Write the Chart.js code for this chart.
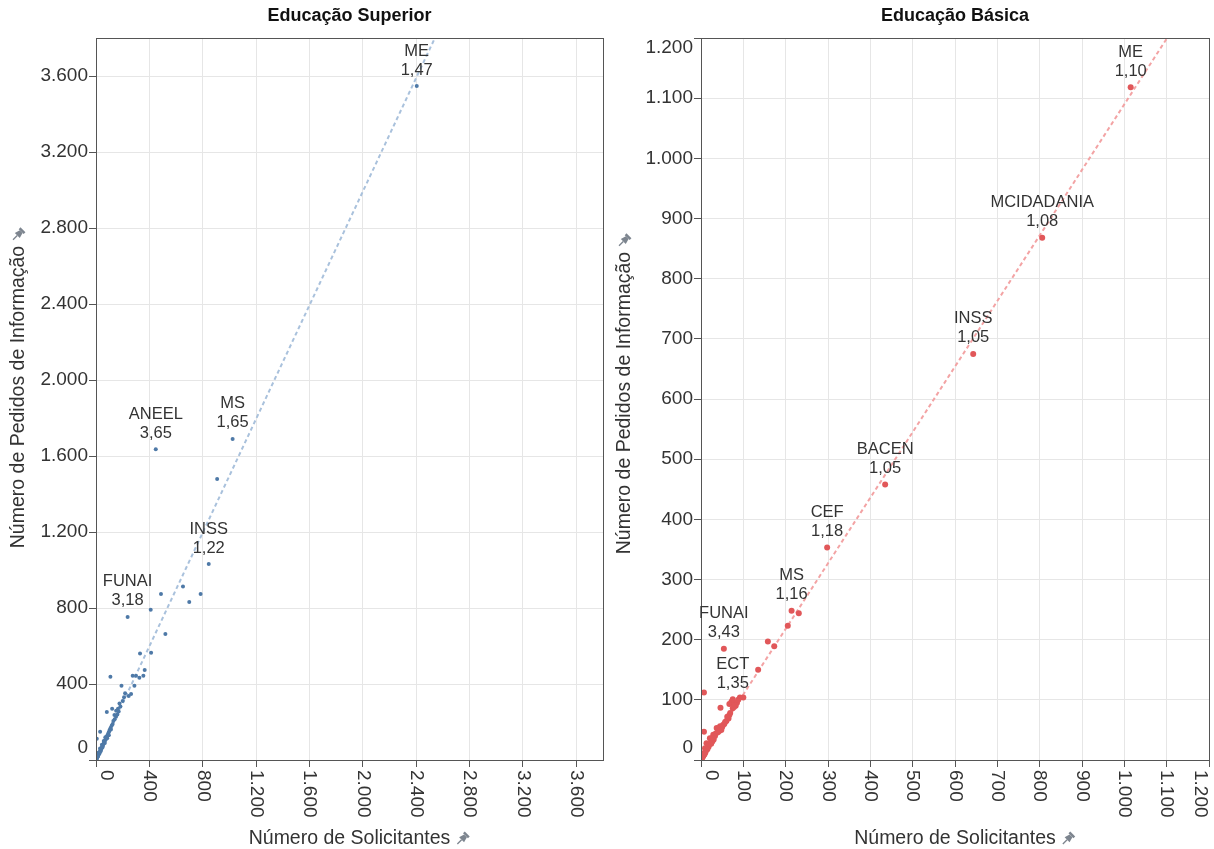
<!DOCTYPE html>
<html>
<head>
<meta charset="utf-8">
<script src="https://cdn.jsdelivr.net/npm/chart.js@4.4.1/dist/chart.umd.min.js"></script>
<style>
  body { margin: 0; background: #fff; }
  canvas { position: absolute; top: 0; }
  #supCanvas { left: 0; }
  #basCanvas { left: 607px; }
</style>
</head>
<body>
<canvas id="supCanvas" width="607" height="849"></canvas>
<canvas id="basCanvas" width="607" height="849"></canvas>
<script>
const FONT = '"Liberation Sans", Arial, sans-serif';

// ---- Educação Superior ----
const supX = [908, 652, 487, 784, 699, 410, 520, 330, 413, 365, 275, 300, 325, 355, 108, 191, 288, 218, 245, 263,
  176, 183, 121, 81, 151, 138, 31, 6,
  160, 150, 140, 130, 125, 118, 110, 104, 100, 95, 90, 86, 80, 76, 72, 68, 63, 60, 56, 52, 48, 45, 41, 38, 35, 32,
  28, 25, 22, 19, 16, 13, 10, 8, 5, 3, 2, 1, 70, 58, 44, 30, 20, 112, 96, 84, 66, 50, 36, 26, 14, 200, 210, 165, 170];
const supY = [1479, 913, 874, 874, 832, 791, 663, 561, 565, 474, 444, 444, 433, 444, 438, 391, 391, 351, 337, 347,
  298, 281, 270, 253, 259, 237, 149, 112,
  240, 228, 215, 205, 190, 182, 170, 160, 152, 145, 136, 130, 124, 115, 108, 104, 96, 90, 84, 79, 72, 66, 62, 57, 52, 47,
  42, 38, 33, 28, 24, 20, 15, 12, 8, 5, 3, 1, 120, 100, 80, 60, 40, 160, 130, 115, 90, 68, 48, 34, 18, 310, 330, 270, 255];
const supLabelNames = ['ME', 'MS', 'ANEEL', 'INSS', 'FUNAI'];
const supLabelX = [2404, 1024, 448, 845, 237];
const supLabelY = [3547, 1690, 1636, 1031, 753];
const supLabelRatio = ['1,47', '1,65', '3,65', '1,22', '3,18'];
const supTrendX = [0, 2540];
const supTrendY = [0, 3800];
const supTicks = [0, 400, 800, 1200, 1600, 2000, 2400, 2800, 3200, 3600];
const supTickLabels = ['0', '400', '800', '1.200', '1.600', '2.000', '2.400', '2.800', '3.200', '3.600'];

// ---- Educação Básica ----
const basX = [231, 205, 158, 173, 135, 7, 7, 92, 100, 72, 67, 80, 46, 75, 69, 65, 67, 45, 37, 41, 29, 21, 13, 9.5, 4, 1.6,
  60, 55, 50, 33, 25, 18, 15, 11, 6, 3, 2, 30, 27, 85, 88, 82, 78, 62, 52, 48, 35, 40, 20, 24, 10, 5, 8, 57, 43, 30, 26];
const basY = [244, 223, 197, 189, 150, 112, 47, 104, 104, 97, 93, 94, 87, 86, 78, 69, 75, 56, 53, 49, 42, 36, 28, 19.5, 11, 3,
  65, 60, 55, 40, 30, 22, 18, 14, 8, 5, 2, 34, 31, 95, 100, 90, 88, 72, 58, 50, 44, 46, 26, 27, 12, 6, 9, 63, 48, 40, 36];
const basLabelNames = ['ME', 'MCIDADANIA', 'INSS', 'BACEN', 'CEF', 'MS', 'FUNAI', 'ECT'];
const basLabelX = [1015, 806, 643, 435, 298, 214, 54, 75];
const basLabelY = [1118, 868, 675, 458, 353, 248, 185, 101];
const basLabelRatio = ['1,10', '1,08', '1,05', '1,05', '1,18', '1,16', '3,43', '1,35'];
const basTrendX = [0, 1102];
const basTrendY = [0, 1201];
const basTicks = [0, 100, 200, 300, 400, 500, 600, 700, 800, 900, 1000, 1100, 1200];
const basTickLabels = ['0', '100', '200', '300', '400', '500', '600', '700', '800', '900', '1.000', '1.100', '1.200'];

function drawPin(ctx, x, y) {
  ctx.save();
  ctx.translate(x, y);
  ctx.rotate(Math.PI / 4);
  ctx.fillStyle = '#7d858f';
  ctx.strokeStyle = '#7d858f';
  ctx.fillRect(-3.5, -7, 7, 2.5);
  ctx.beginPath();
  ctx.moveTo(-2, -4.5);
  ctx.lineTo(2, -4.5);
  ctx.lineTo(3.5, 1);
  ctx.lineTo(-3.5, 1);
  ctx.closePath();
  ctx.fill();
  ctx.lineWidth = 1.3;
  ctx.beginPath();
  ctx.moveTo(0, 1);
  ctx.lineTo(0, 7);
  ctx.stroke();
  ctx.restore();
}

function makeChart(canvasId, c) {
  const points = c.x.concat(c.labelX).map((v, i) => ({ x: v, y: c.y.concat(c.labelY)[i] }));
  const trend = c.trendX.map((v, i) => ({ x: v, y: c.trendY[i] }));

  const textPlugin = {
    id: 'texts',
    afterDraw(chart) {
      const ctx = chart.ctx;
      const a = chart.chartArea;
      const xs = chart.scales.x, ys = chart.scales.y;
      ctx.save();
      // box around plot
      ctx.strokeStyle = '#555';
      ctx.lineWidth = 1;
      ctx.strokeRect(Math.round(a.left) + 0.5, Math.round(a.top) + 0.5, Math.round(a.right - a.left), Math.round(a.bottom - a.top));

      // title
      const cx = (a.left + a.right) / 2;
      ctx.fillStyle = '#111';
      ctx.font = 'bold 18px ' + FONT;
      ctx.textAlign = 'center';
      ctx.textBaseline = 'middle';
      ctx.fillText(c.title, cx, 16);

      // y tick labels
      ctx.fillStyle = '#333';
      ctx.font = '19px ' + FONT;
      ctx.textAlign = 'right';
      c.ticks.forEach((v, i) => {
        let py = ys.getPixelForValue(v);
        py = Math.min(py, a.bottom - 12);
        py = Math.max(py, a.top + 10);
        ctx.fillText(c.tickLabels[i], a.left - 8, py);
      });

      // x tick labels, rotated clockwise
      c.ticks.forEach((v, i) => {
        let px = xs.getPixelForValue(v);
        px = Math.max(px, a.left + 10);
        px = Math.min(px, a.right - 9);
        ctx.save();
        ctx.translate(px, a.bottom + 10);
        ctx.rotate(Math.PI / 2);
        ctx.textAlign = 'left';
        ctx.textBaseline = 'middle';
        ctx.fillText(c.tickLabels[i], 0, 0);
        ctx.restore();
      });

      // axis titles
      ctx.font = '19.5px ' + FONT;
      ctx.fillStyle = '#333';
      ctx.textAlign = 'center';
      ctx.textBaseline = 'middle';
      const xt = 'Número de Solicitantes';
      const xw = ctx.measureText(xt).width;
      ctx.fillText(xt, cx, 839);
      drawPin(ctx, cx + xw / 2 + 12, 839);

      const yt = 'Número de Pedidos de Informação';
      const yw = ctx.measureText(yt).width;
      ctx.save();
      ctx.translate(c.yTitleX, c.yTitleY);
      ctx.rotate(-Math.PI / 2);
      ctx.fillText(yt, 0, 0);
      ctx.restore();
      drawPin(ctx, c.yTitleX - 1, c.yTitleY - yw / 2 - 11);

      // point labels
      ctx.font = '16.5px ' + FONT;
      ctx.fillStyle = '#333';
      c.labelNames.forEach((n, i) => {
        const px = xs.getPixelForValue(c.labelX[i]);
        const py = ys.getPixelForValue(c.labelY[i]);
        ctx.fillText(n, px, py - 35);
        ctx.fillText(c.labelRatio[i], px, py - 16);
      });
      ctx.restore();
    }
  };

  const axis = (fitFn) => ({
    type: 'linear',
    min: 0,
    max: c.max,
    afterBuildTicks: s => { s.ticks = c.ticks.map(v => ({ value: v })); },
    afterFit: fitFn,
    ticks: { display: false },
    grid: { color: '#e6e6e6', lineWidth: 1, drawTicks: true, tickLength: 7, tickColor: '#555' },
    border: { display: true, color: '#555' }
  });

  return new Chart(document.getElementById(canvasId), {
    type: 'scatter',
    data: {
      datasets: [
        {
          data: points,
          backgroundColor: c.color,
          borderWidth: 0,
          pointRadius: c.radius,
          order: 1
        },
        {
          data: trend,
          showLine: true,
          pointRadius: 0,
          borderColor: c.trendColor,
          borderWidth: 2,
          borderDash: [4, 3],
          order: 2
        }
      ]
    },
    options: {
      responsive: false,
      animation: false,
      layout: { padding: { top: 38, right: c.padRight, left: 0, bottom: 0 } },
      plugins: { legend: { display: false }, tooltip: { enabled: false }, title: { display: false } },
      scales: {
        x: axis(s => { s.height = 89; }),
        y: axis(s => { s.width = c.yAxisWidth; })
      }
    },
    plugins: [textPlugin]
  });
}

makeChart('supCanvas', {
  title: 'Educação Superior',
  x: supX, y: supY,
  labelNames: supLabelNames, labelX: supLabelX, labelY: supLabelY, labelRatio: supLabelRatio,
  trendX: supTrendX, trendY: supTrendY,
  ticks: supTicks, tickLabels: supTickLabels,
  max: 3800,
  color: '#4e79a7', trendColor: '#a9c1dc', radius: 2,
  yAxisWidth: 96, padRight: 2,
  yTitleX: 19, yTitleY: 397
});

makeChart('basCanvas', {
  title: 'Educação Básica',
  x: basX, y: basY,
  labelNames: basLabelNames, labelX: basLabelX, labelY: basLabelY, labelRatio: basLabelRatio,
  trendX: basTrendX, trendY: basTrendY,
  ticks: basTicks, tickLabels: basTickLabels,
  max: 1200,
  color: '#e15759', trendColor: '#f3a3a4', radius: 3,
  yAxisWidth: 94, padRight: 5,
  yTitleX: 18, yTitleY: 403
});
</script>
</body>
</html>
